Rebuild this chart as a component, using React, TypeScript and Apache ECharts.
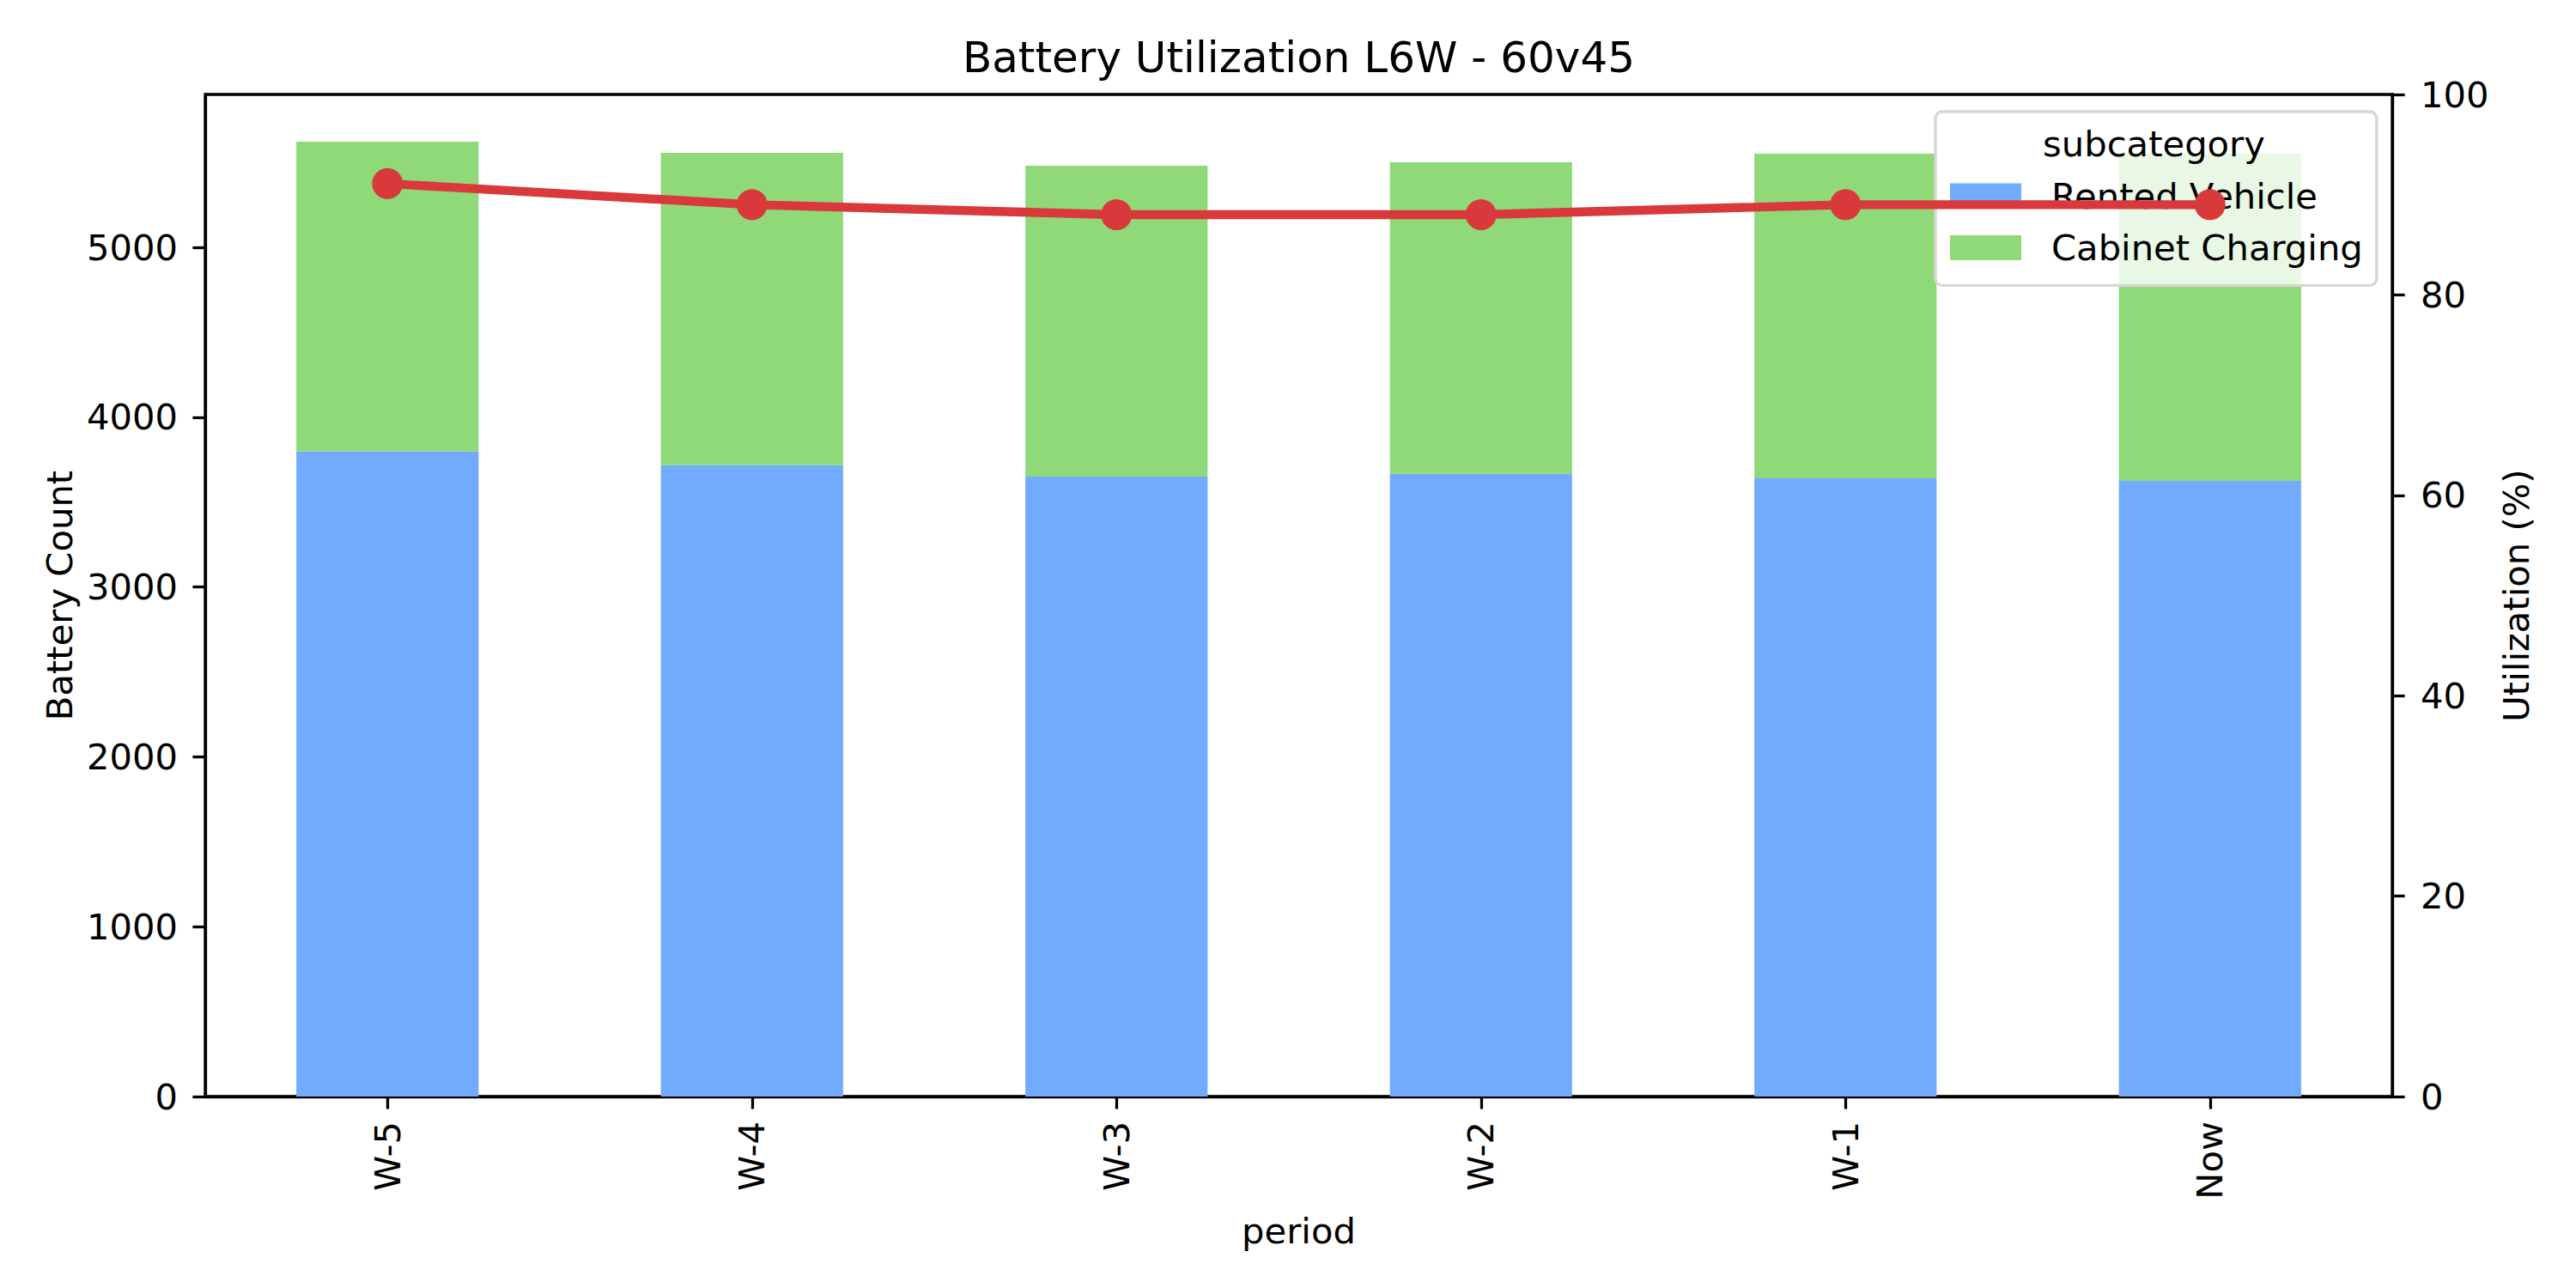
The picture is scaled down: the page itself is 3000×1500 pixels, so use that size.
import React, { useEffect, useRef } from "react";
import * as echarts from "echarts";

const categories = ["W-5", "W-4", "W-3", "W-2", "W-1", "Now"];
const rentedVehicle = [3798, 3717, 3650, 3667, 3640, 3625];
const cabinetCharging = [1824, 1839, 1830, 1833, 1911, 1926];
const utilization = [91.1, 89.0, 88.0, 88.0, 89.0, 89.0];
const countTicks = [0, 1000, 2000, 3000, 4000, 5000];
const legendNames = ["Rented Vehicle", "Cabinet Charging"];

const FONT = "DejaVu Sans";
const FS = 41.7;
const LW = 3.3;

export default function App() {
  const ref = useRef<HTMLDivElement>(null);
  useEffect(() => {
    document.body.style.margin = "0";
    const chart = echarts.init(ref.current!, null, { renderer: "svg" });
    const axisText = { fontFamily: FONT, fontSize: FS, color: "#000" };
    chart.setOption({
      animation: false,
      backgroundColor: "#fff",
      textStyle: { fontFamily: FONT },
      title: {
        text: "Battery Utilization L6W - 60v45",
        left: 1512.5,
        textAlign: "center",
        top: 42,
        padding: 0,
        textStyle: { fontFamily: FONT, fontSize: 50, fontWeight: "normal", color: "#000" },
      },
      grid: {
        left: 239,
        right: 214,
        top: 110,
        bottom: 223,
        show: true,
        borderColor: "#000",
        borderWidth: LW,
        backgroundColor: "transparent",
      },
      legend: {
        data: legendNames,
        orient: "vertical",
        left: 2254,
        top: 130,
        padding: [77, 16, 23, 17],
        itemWidth: 83,
        itemHeight: 29,
        itemGap: 18.4,
        icon: "rect",
        backgroundColor: "rgba(255,255,255,0.8)",
        borderColor: "#d6d6d6",
        borderWidth: LW,
        borderRadius: 8,
        z: 4,
        textStyle: { ...axisText, padding: [0, 0, 0, 30] },
      },
      graphic: [
        {
          type: "text",
          z: 6,
          x: 2508.5,
          y: 167,
          style: {
            text: "subcategory",
            fontFamily: FONT,
            fontSize: FS,
            fill: "#000",
            align: "center",
            verticalAlign: "middle",
          },
        },
      ],
      xAxis: {
        type: "category",
        data: categories,
        axisLine: { show: true, lineStyle: { color: "#000", width: LW } },
        axisTick: { show: true, alignWithLabel: true, length: 14.6, lineStyle: { color: "#000", width: LW } },
        axisLabel: { ...axisText, rotate: 90, margin: 29 },
        splitLine: { show: false },
        name: "period",
        nameLocation: "middle",
        nameGap: 135,
        nameTextStyle: axisText,
      },
      yAxis: [
        {
          type: "value",
          position: "left",
          min: 0,
          max: 5900,
          axisLine: { show: true, lineStyle: { color: "#000", width: LW } },
          axisTick: { show: true, length: 14.6, lineStyle: { color: "#000", width: LW }, customValues: countTicks },
          axisLabel: {
            ...axisText,
            margin: 32,
            customValues: countTicks,
            formatter: (v: number) => String(Math.round(v)),
          },
          splitLine: { show: false },
          name: "Battery Count",
          nameLocation: "middle",
          nameGap: 149,
          nameTextStyle: axisText,
        },
        {
          type: "value",
          position: "right",
          min: 0,
          max: 100,
          interval: 20,
          axisLine: { show: true, lineStyle: { color: "#000", width: LW } },
          axisTick: { show: true, length: 14.6, lineStyle: { color: "#000", width: LW } },
          axisLabel: { ...axisText, margin: 33, formatter: (v: number) => String(Math.round(v)) },
          splitLine: { show: false },
          name: "Utilization (%)",
          nameLocation: "middle",
          nameGap: 122,
          nameTextStyle: axisText,
        },
      ],
      series: [
        {
          name: "Rented Vehicle",
          type: "bar",
          stack: "total",
          barWidth: "50%",
          data: rentedVehicle,
          itemStyle: { color: "#72aafe" },
          z: 2,
        },
        {
          name: "Cabinet Charging",
          type: "bar",
          stack: "total",
          barWidth: "50%",
          data: cabinetCharging,
          itemStyle: { color: "#90d978" },
          z: 2,
        },
        {
          name: "Utilization",
          type: "line",
          yAxisIndex: 1,
          data: utilization,
          symbol: "circle",
          symbolSize: 36,
          lineStyle: { color: "#d9393b", width: 10.4 },
          itemStyle: { color: "#d9393b" },
          z: 10,
        },
      ],
    });
    return () => chart.dispose();
  }, []);
  return (
    <div
      ref={ref}
      style={{ position: "absolute", left: 0, top: 0, width: 3000, height: 1500 }}
    />
  );
}
